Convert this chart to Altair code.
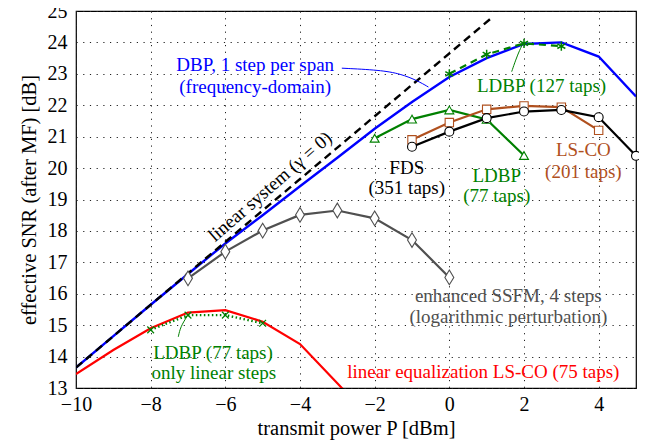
import altair as alt
import pandas as pd

# ---- data ----
lin_x = [-10, 1.15]
lin_y = [13.65, 24.8]

dbp_x = [-10, -9, -8, -7, -6, -5, -4, -3, -2, -1, 0, 1, 2, 3, 4, 5]
dbp_y = [13.65, 14.65, 15.65, 16.63, 17.6, 18.5, 19.42, 20.33, 21.25, 22.1, 22.9, 23.5, 23.95, 24.0, 23.55, 22.28]

ldbp127_x = [0, 1, 2, 3]
ldbp127_y = [23.0, 23.62, 23.97, 23.88]

ldbp77_x = [-2, -1, 0, 1, 2]
ldbp77_y = [20.95, 21.56, 21.85, 21.55, 20.4]

lsco201_x = [-1, 0, 1, 2, 3, 4]
lsco201_y = [20.9, 21.45, 21.87, 21.98, 21.94, 21.2]

fds_x = [-1, 0, 1, 2, 3, 4, 5]
fds_y = [20.68, 21.16, 21.59, 21.8, 21.85, 21.62, 20.39]

ssfm_x = [-7, -6, -5, -4, -3, -2, -1, 0]
ssfm_y = [16.49, 17.34, 18.01, 18.51, 18.65, 18.40, 17.71, 16.52]

lineq_x = [-10, -9, -8, -7, -6, -5, -4, -3, -2]
lineq_y = [13.44, 14.21, 14.90, 15.40, 15.48, 15.11, 14.40, 13.15, 11.9]

ldbplin_x = [-8, -7, -6, -5]
ldbplin_y = [14.85, 15.32, 15.32, 15.06]

# annotation connector curves (data coordinates)
conn_dbp_x = [-2.88, -1.86, -1.3, -0.85, -0.56]
conn_dbp_y = [23.18, 23.12, 23.0, 22.78, 22.58]
conn_l127_x = [1.67, 1.78, 1.88, 1.98]
conn_l127_y = [23.07, 23.45, 23.75, 23.98]
conn_llin_x = [-7.26, -7.2, -7.03]
conn_llin_y = [14.63, 14.95, 15.27]

x_ticks = [-10, -8, -6, -4, -2, 0, 2, 4]
y_ticks = [13, 14, 15, 16, 17, 18, 19, 20, 21, 22, 23, 24, 25]

FONT = "Liberation Serif"
BLUE = "#0000ff"
RED = "#ff0000"
GREEN = "#008000"
BROWN = "#b0501e"
GRAY = "#505050"

xs = alt.Scale(domain=[-10, 5], nice=False, zero=False)
ys = alt.Scale(domain=[13, 25], nice=False, zero=False)

XAX = alt.Axis(values=x_ticks, labelOverlap=False, labelFlush=False, title="transmit power P [dBm]")
YAX = alt.Axis(values=y_ticks, labelOverlap=False, labelFlush=False, title="effective SNR (after MF) [dB]")

ASTER = "M0,-1L0,1M-0.866,-0.5L0.866,0.5M-0.866,0.5L0.866,-0.5"
CROSS = "M-1,-1L1,1M-1,1L1,-1"
TDIAM = "M0,-1.4L0.85,0L0,1.4L-0.85,0Z"


def df(x, y):
    return pd.DataFrame({"x": x, "y": y})


def enc():
    return dict(
        x=alt.X("x:Q", scale=xs, axis=XAX),
        y=alt.Y("y:Q", scale=ys, axis=YAX),
    )


layers = []

# blue DBP
layers.append(alt.Chart(df(dbp_x, dbp_y)).mark_line(color=BLUE, strokeWidth=2.4, clip=True).encode(**enc()))
# linear system dashed
layers.append(alt.Chart(df(lin_x, lin_y)).mark_line(color="black", strokeWidth=2.4, strokeDash=[8, 5], clip=True).encode(**enc()))
# LDBP 127 taps
layers.append(alt.Chart(df(ldbp127_x, ldbp127_y)).mark_line(color=GREEN, strokeWidth=2.2, strokeDash=[7, 5]).encode(**enc()))
layers.append(alt.Chart(df(ldbp127_x, ldbp127_y)).mark_point(shape=ASTER, size=85, color=GREEN, strokeWidth=1.5, filled=False, opacity=1).encode(**enc()))
# red linear equalization
layers.append(alt.Chart(df(lineq_x, lineq_y)).mark_line(color=RED, strokeWidth=2.2, clip=True).encode(**enc()))
# LDBP only linear steps
layers.append(alt.Chart(df(ldbplin_x, ldbplin_y)).mark_line(color=GREEN, strokeWidth=2.4, strokeDash=[1.5, 2.5]).encode(**enc()))
layers.append(alt.Chart(df(ldbplin_x, ldbplin_y)).mark_point(shape=CROSS, size=45, color=GREEN, strokeWidth=1.2, filled=False, opacity=1).encode(**enc()))
# enhanced SSFM
layers.append(alt.Chart(df(ssfm_x, ssfm_y)).mark_line(color=GRAY, strokeWidth=2.2).encode(**enc()))
layers.append(alt.Chart(df(ssfm_x, ssfm_y)).mark_point(shape=TDIAM, size=110, fill="white", stroke=GRAY, strokeWidth=1.1, filled=True, opacity=1).encode(**enc()))
# LDBP 77 taps
layers.append(alt.Chart(df(ldbp77_x, ldbp77_y)).mark_line(color=GREEN, strokeWidth=2.2).encode(**enc()))
layers.append(alt.Chart(df(ldbp77_x, ldbp77_y)).mark_point(shape="triangle-up", size=80, fill="white", stroke=GREEN, strokeWidth=1.1, filled=True, opacity=1).encode(**enc()))
# LS-CO 201 taps
layers.append(alt.Chart(df(lsco201_x, lsco201_y)).mark_line(color=BROWN, strokeWidth=2.2).encode(**enc()))
layers.append(alt.Chart(df(lsco201_x, lsco201_y)).mark_point(shape="square", size=70, fill="white", stroke=BROWN, strokeWidth=1.1, filled=True, opacity=1).encode(**enc()))
# FDS
layers.append(alt.Chart(df(fds_x, fds_y)).mark_line(color="black", strokeWidth=2.2).encode(**enc()))
layers.append(alt.Chart(df(fds_x, fds_y)).mark_point(shape="circle", size=80, fill="white", stroke="black", strokeWidth=1.1, filled=True, opacity=1).encode(**enc()))

# connectors
layers.append(alt.Chart(df(conn_dbp_x, conn_dbp_y)).mark_line(color=BLUE, strokeWidth=1, interpolate="basis").encode(**enc()))
layers.append(alt.Chart(df(conn_l127_x, conn_l127_y)).mark_line(color=GREEN, strokeWidth=1, interpolate="basis").encode(**enc()))
layers.append(alt.Chart(df(conn_llin_x, conn_llin_y)).mark_line(color=GREEN, strokeWidth=1, interpolate="basis").encode(**enc()))


def label(text, x, y, color, angle=None, size=19):
    kw = dict(font=FONT, fontSize=size, color=color, align="center", baseline="middle")
    if angle is not None:
        kw["angle"] = angle
    return alt.Chart().mark_text(text=text, **kw).encode(
        x=alt.XDatum(x, scale=xs, axis=XAX),
        y=alt.YDatum(y, scale=ys, axis=YAX),
    )


layers += [
    label("DBP, 1 step per span", -5.2, 23.27, BLUE),
    label("(frequency-domain)", -5.2, 22.59, BLUE),
    label("LDBP (127 taps)", 2.47, 22.62, GREEN),
    label("FDS", -1.14, 20.0, "black"),
    label("(351 taps)", -1.14, 19.38, "black"),
    label("LDBP", 1.27, 19.74, GREEN),
    label("(77 taps)", 1.27, 19.10, GREEN),
    label("LS-CO", 3.59, 20.58, BROWN),
    label("(201 taps)", 3.59, 19.89, BROWN),
    label("enhanced SSFM, 4 steps", 1.58, 15.93, GRAY),
    label("(logarithmic perturbation)", 1.58, 15.27, GRAY),
    label("linear equalization LS-CO (75 taps)", 0.91, 13.52, RED),
    label("LDBP (77 taps)", -6.33, 14.12, GREEN),
    label("only linear steps", -6.31, 13.48, GREEN),
    label("linear system (\u03b3 = 0)", -4.8, 19.41, "black", angle=319),
]

chart = alt.layer(*layers).properties(
    width=560, height=377,
    autosize=alt.AutoSizeParams(type="none"),
    padding={"left": 68, "top": 3, "right": 3, "bottom": 56},
    background="white",
).configure_view(
    stroke="black", strokeWidth=1.2
).configure_axis(
    labelFont=FONT, labelFontSize=20, labelColor="black",
    titleFont=FONT, titleFontSize=20.5, titleColor="black", titleFontWeight="normal",
    domain=False, ticks=False,
    grid=True, gridColor="#222222", gridDash=[1.2, 5.5], gridWidth=1, gridOpacity=1,
).configure_axisX(
    labelPadding=6, titlePadding=4
).configure_axisY(
    labelPadding=9, titlePadding=8
)

chart.save("out.html", embed_options={"renderer": "svg", "actions": False})
